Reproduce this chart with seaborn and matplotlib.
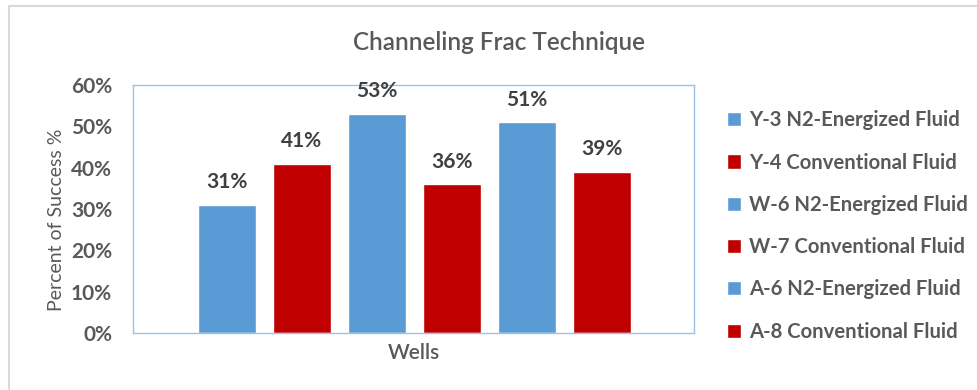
import matplotlib
matplotlib.use("Agg")
import matplotlib.pyplot as plt
from matplotlib.lines import Line2D
from matplotlib.ticker import PercentFormatter
import seaborn as sns
import pandas as pd

# Wells and their success rates
wells = [
    "Y-3 N2-Energized Fluid",
    "Y-4 Conventional Fluid",
    "W-6 N2-Energized Fluid",
    "W-7 Conventional Fluid",
    "A-6 N2-Energized Fluid",
    "A-8 Conventional Fluid",
]
success = [0.31, 0.41, 0.53, 0.36, 0.51, 0.39]
bar_colors = ["#5B9BD5", "#C00000", "#5B9BD5", "#C00000", "#5B9BD5", "#C00000"]
y_ticks = [0.0, 0.1, 0.2, 0.3, 0.4, 0.5, 0.6]

TEXT = "#595959"
LABEL = "#404040"

sns.set_theme(style="white")
plt.rcParams["font.family"] = ["Lato", "DejaVu Sans"]

df = pd.DataFrame({"well": wells, "success": success})

fig = plt.figure(figsize=(9.78, 3.9), dpi=100)
ax = fig.add_axes([133 / 978, 57 / 390, 561 / 978, 248 / 390])

sns.barplot(
    data=df, x="well", y="success", hue="well", hue_order=wells,
    palette=bar_colors, saturation=1, width=0.773, ax=ax, legend=True,
)

# value labels on top of each bar
for cont in ax.containers:
    ax.bar_label(cont, fmt=lambda v: f"{v:.0%}", padding=9,
                 fontsize=15, fontweight="bold", color=LABEL)

ax.set_xlim(-1.247, 6.233)
ax.set_ylim(0, 0.6)
ax.set_yticks(y_ticks)
ax.yaxis.set_major_formatter(PercentFormatter(1.0, decimals=0))
ax.set_xticks([])
ax.tick_params(axis="y", length=0, pad=15, labelsize=15, labelcolor=TEXT)
for lbl in ax.get_yticklabels():
    lbl.set_fontweight("bold")

for sp in ax.spines.values():
    sp.set_visible(True)
    sp.set_color("#9DC3E6")
    sp.set_linewidth(1.0)

ax.set_xlabel("Wells", fontsize=15, color=TEXT, labelpad=7, fontweight="semibold")
ax.set_ylabel("Percent of Success %", fontsize=14, color=TEXT)
ax.yaxis.set_label_coords(-0.122, 0.455)

fig.text(499 / 978, 1 - 43 / 390, "Channeling Frac Technique",
         ha="center", va="center", fontsize=17.5, color=TEXT,
         fontweight="semibold")

sns.move_legend(
    ax, "center left", bbox_to_anchor=(727 / 978, 1 - 226 / 390),
    bbox_transform=fig.transFigure, frameon=False, title=None,
    fontsize=14.6, labelspacing=1.1, handlelength=0.7, handleheight=0.7,
    handletextpad=0.4, borderpad=0, borderaxespad=0,
)
for t in ax.get_legend().get_texts():
    t.set_color(TEXT)
    t.set_fontweight("bold")

# light chart-area border along the top and left edges
fig.add_artist(Line2D([9 / 978, 9 / 978], [0, 1 - 6 / 390],
                      transform=fig.transFigure, color="#D9D9D9", lw=1.5))
fig.add_artist(Line2D([9 / 978, 1], [1 - 6 / 390, 1 - 6 / 390],
                      transform=fig.transFigure, color="#D9D9D9", lw=1.5))

fig.savefig("out.png", dpi=100, facecolor="white")
